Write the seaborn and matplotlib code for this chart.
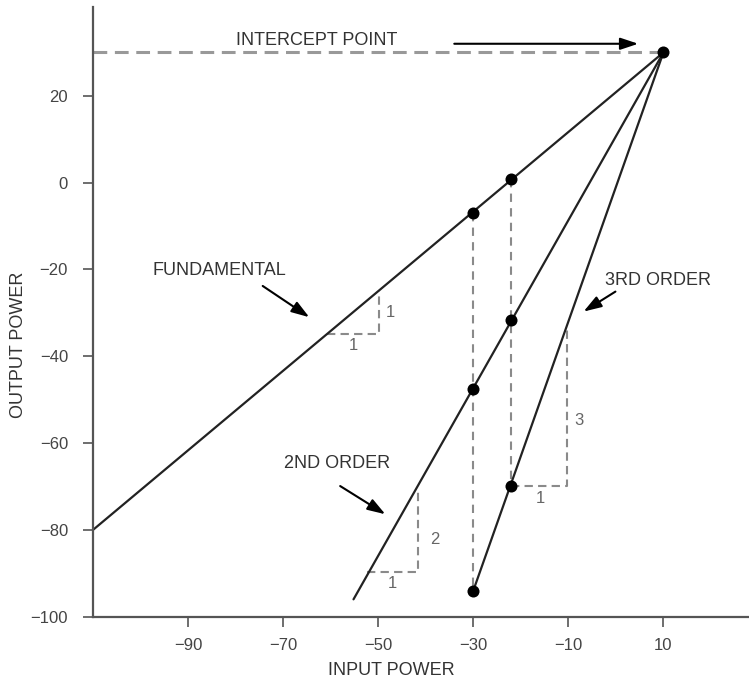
import numpy as np
import pandas as pd
import matplotlib
matplotlib.use("Agg")
import matplotlib.pyplot as plt
import seaborn as sns

# ---- data ----
fund_x = [-110, 10]
fund_y = [-80, 30]
second_x = [-55.2, 10]
second_y = [-96, 30]
third_x = [-30, 10]
third_y = [-94, 30]

dot_x = [10, -30, -22, -30, -22, -30, -22]
dot_y = [30, -7, 0.8, -47.5, -31.7, -94, -69.9]

xticks = [-90, -70, -50, -30, -10, 10]
yticks = [20, 0, -20, -40, -60, -80, -100]

# slope triangles (corner points)
fund_tri_x = [-60.8, -49.9, -49.9]
fund_tri_y = [-34.9, -34.9, -25.0]
second_tri_x = [-52.4, -41.7, -41.7]
second_tri_y = [-89.6, -89.6, -71.2]
third_tri_x = [-22, -10.2, -10.2]
third_tri_y = [-69.9, -69.9, -33.2]

sns.set_theme(style="ticks")
plt.rcParams['font.family'] = ['Liberation Sans', 'DejaVu Sans']
plt.rcParams['axes.unicode_minus'] = True

fig = plt.figure(figsize=(7.49, 6.84), dpi=100)
ax = fig.add_axes([93/749, 1-616.7/684, 1-93/749, (616.7-7.3)/684])

line_df = pd.concat([
    pd.DataFrame({"x": fund_x, "y": fund_y, "s": "fund"}),
    pd.DataFrame({"x": second_x, "y": second_y, "s": "second"}),
    pd.DataFrame({"x": third_x, "y": third_y, "s": "third"}),
])

gray = "#999999"
dgray = "#8a8a8a"

# intercept dashed line
ax.plot([-110, dot_x[0]], [dot_y[0], dot_y[0]], color=gray, lw=2.2,
        dashes=(4.5, 2.5), zorder=1)
# vertical dashed drops
ax.plot([dot_x[1], dot_x[5]], [dot_y[1], dot_y[5]], color=dgray, lw=1.5,
        dashes=(4, 3), zorder=1)
ax.plot([dot_x[2], dot_x[6]], [dot_y[2], dot_y[6]], color=dgray, lw=1.5,
        dashes=(4, 3), zorder=1)
for tx, ty in [(fund_tri_x, fund_tri_y), (second_tri_x, second_tri_y),
               (third_tri_x, third_tri_y)]:
    ax.plot(tx, ty, color=dgray, lw=1.5, dashes=(4, 2.5), zorder=1)

sns.lineplot(data=line_df, x="x", y="y", units="s", estimator=None,
             color="#222222", lw=1.6, sort=False, ax=ax, zorder=2)
sns.scatterplot(x=dot_x, y=dot_y, color="black", s=75, edgecolor="black",
                linewidth=0, ax=ax, zorder=3)

ax.set_xlim(-110, 28)
ax.set_ylim(-100, 40.4)
ax.set_xticks(xticks)
ax.set_yticks(yticks)
ax.tick_params(axis="both", length=7, width=1.2, color="#555555",
               labelcolor="#444444", labelsize=12)
ax.tick_params(axis="y", pad=11)
ax.tick_params(axis="x", pad=8)
for s in ["left", "bottom"]:
    ax.spines[s].set_color("#555555")
    ax.spines[s].set_linewidth(1.6)
sns.despine(ax=ax)

tc = "#333333"
fs = 13
ax.set_xlabel("INPUT POWER", fontsize=fs, color=tc)
ax.set_ylabel("OUTPUT POWER", fontsize=fs, color=tc)
ax.xaxis.set_label_coords((391-93)/656, -(662-616.7)/609.4)
ax.yaxis.set_label_coords((27-93)/656, (616.7-345)/609.4)

arrow = dict(arrowstyle="-|>,head_length=0.9,head_width=0.3", color="black",
             lw=1.5, shrinkA=0, shrinkB=0)

ax.text(-80, 32.8, "INTERCEPT POINT", fontsize=fs, color=tc, va="center",
        ha="left")
ax.annotate("", xy=(4.7, 32), xytext=(-34, 32), arrowprops=arrow)

ax.text(-97.5, -20.3, "FUNDAMENTAL", fontsize=fs, color=tc, va="center",
        ha="left")
ax.annotate("", xy=(-64.5, -31.0), xytext=(-74.3, -23.8), arrowprops=arrow)

ax.text(-58.6, -64.6, "2ND ORDER", fontsize=fs, color=tc, va="center",
        ha="center")
ax.annotate("", xy=(-48.5, -76.4), xytext=(-58, -69.9), arrowprops=arrow)

ax.text(-2.2, -22.5, "3RD ORDER", fontsize=fs, color=tc, va="center",
        ha="left")
ax.annotate("", xy=(-6.8, -29.7), xytext=(-0.1, -25.1), arrowprops=arrow)

lfs = 12
ax.text(-47.5, -29.9, "1", fontsize=lfs, color="#666666", ha="center", va="center")
ax.text(-55.2, -37.6, "1", fontsize=lfs, color="#666666", ha="center", va="center")
ax.text(-38, -82.3, "2", fontsize=lfs, color="#666666", ha="center", va="center")
ax.text(-47.1, -92.4, "1", fontsize=lfs, color="#666666", ha="center", va="center")
ax.text(-7.7, -54.9, "3", fontsize=lfs, color="#666666", ha="center", va="center")
ax.text(-15.9, -72.8, "1", fontsize=lfs, color="#666666", ha="center", va="center")

fig.savefig("out.png", dpi=100)
